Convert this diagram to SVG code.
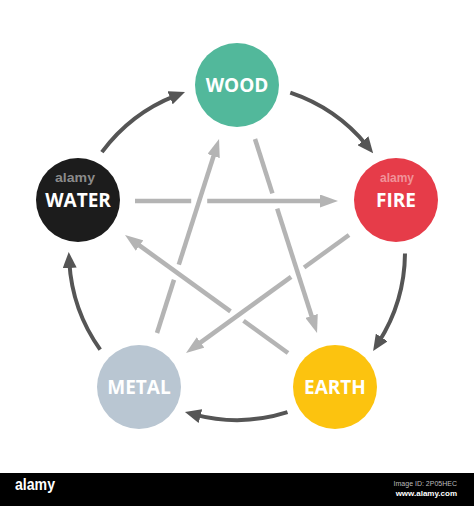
<svg xmlns="http://www.w3.org/2000/svg" width="474" height="506" viewBox="0 0 474 506">
<style>
.cyc{fill:none;stroke:#555555;stroke-width:4;}
.ctl{fill:none;stroke:#b4b4b4;stroke-width:4.5;}
.lbl{font-family:"Open Sans","Liberation Sans",sans-serif;font-weight:700;font-size:19px;fill:#ffffff;text-anchor:middle;}
.wm{font-family:"Liberation Sans",sans-serif;font-weight:700;text-anchor:middle;}
</style>
<defs>
<marker id="ad" markerUnits="userSpaceOnUse" markerWidth="16" markerHeight="14" refX="6" refY="7" orient="auto"><path d="M0,0 L16,7 L0,14 z" fill="#555555"/></marker>
<marker id="ag" markerUnits="userSpaceOnUse" markerWidth="18" markerHeight="13" refX="8" refY="6.5" orient="auto"><path d="M0,0 L18,6.5 L0,13 z" fill="#b4b4b4"/></marker>
</defs>
<rect width="474" height="506" fill="#ffffff"/>
<g id="connectors">
<path class="cyc" d="M290.3,92.7 A168,168 0 0 1 366.8,145.4" marker-end="url(#ad)"/>
<path class="cyc" d="M405,253.5 A168,168 0 0 1 378.5,342.5" marker-end="url(#ad)"/>
<path class="cyc" d="M287.5,412.2 A168,168 0 0 1 194.6,414.6" marker-end="url(#ad)"/>
<path class="cyc" d="M100.2,349.6 A168,168 0 0 1 69.3,262" marker-end="url(#ad)"/>
<path class="cyc" d="M101.9,152.1 A168,168 0 0 1 175.7,95.6" marker-end="url(#ad)"/>
<path class="ctl" d="M135,201 L191.2,201"/>
<path class="ctl" d="M207.2,201 L328,201" marker-end="url(#ag)"/>
<path class="ctl" d="M157,333 L174,279.8"/>
<path class="ctl" d="M178.8,264.6 L216,148.5" marker-end="url(#ag)"/>
<path class="ctl" d="M255,139 L272.4,193.4"/>
<path class="ctl" d="M277.2,208.6 L314,323.5" marker-end="url(#ag)"/>
<path class="ctl" d="M288,353 L243.5,320.8"/>
<path class="ctl" d="M230.5,311.4 L133.1,240.9" marker-end="url(#ag)"/>
<path class="ctl" d="M349,235 L304.1,267.5"/>
<path class="ctl" d="M291.1,276.9 L194.1,347.1" marker-end="url(#ag)"/>
</g>
<g id="wood">
<circle cx="237" cy="85" r="42" fill="#52b89b"/>
<text class="lbl" x="237" y="92">WOOD</text>
</g>
<g id="fire">
<circle cx="396" cy="200" r="42" fill="#e63c49"/>
<text class="wm" x="397" y="182" font-size="12" fill="#ffffff" fill-opacity="0.45" textLength="34" lengthAdjust="spacingAndGlyphs">alamy</text>
<text class="lbl" x="396" y="207">FIRE</text>
</g>
<g id="earth">
<circle cx="335" cy="387" r="42" fill="#fcc30f"/>
<text class="lbl" x="335" y="394">EARTH</text>
</g>
<g id="metal">
<circle cx="139" cy="387" r="42" fill="#b9c6d2"/>
<text class="lbl" x="139" y="394">METAL</text>
</g>
<g id="water">
<circle cx="78" cy="200" r="42" fill="#1c1c1c"/>
<text class="wm" x="75" y="182" font-size="12" fill="#9a9a9a" fill-opacity="0.9" textLength="40" lengthAdjust="spacingAndGlyphs">alamy</text>
<text class="lbl" x="78" y="207">WATER</text>
</g>
<g id="watermark-bar">
<rect x="0" y="473" width="474" height="33" fill="#000000"/>
<text class="wm" x="35" y="490" font-size="17" fill="#ffffff" textLength="40" lengthAdjust="spacingAndGlyphs">alamy</text>
<text x="457" y="486" font-family="Liberation Sans,sans-serif" font-size="7" fill="#bbbbbb" text-anchor="end">Image ID: 2P05HEC</text>
<text x="457" y="496" font-family="Liberation Sans,sans-serif" font-size="8" font-weight="700" fill="#ffffff" text-anchor="end">www.alamy.com</text>
</g>
</svg>
